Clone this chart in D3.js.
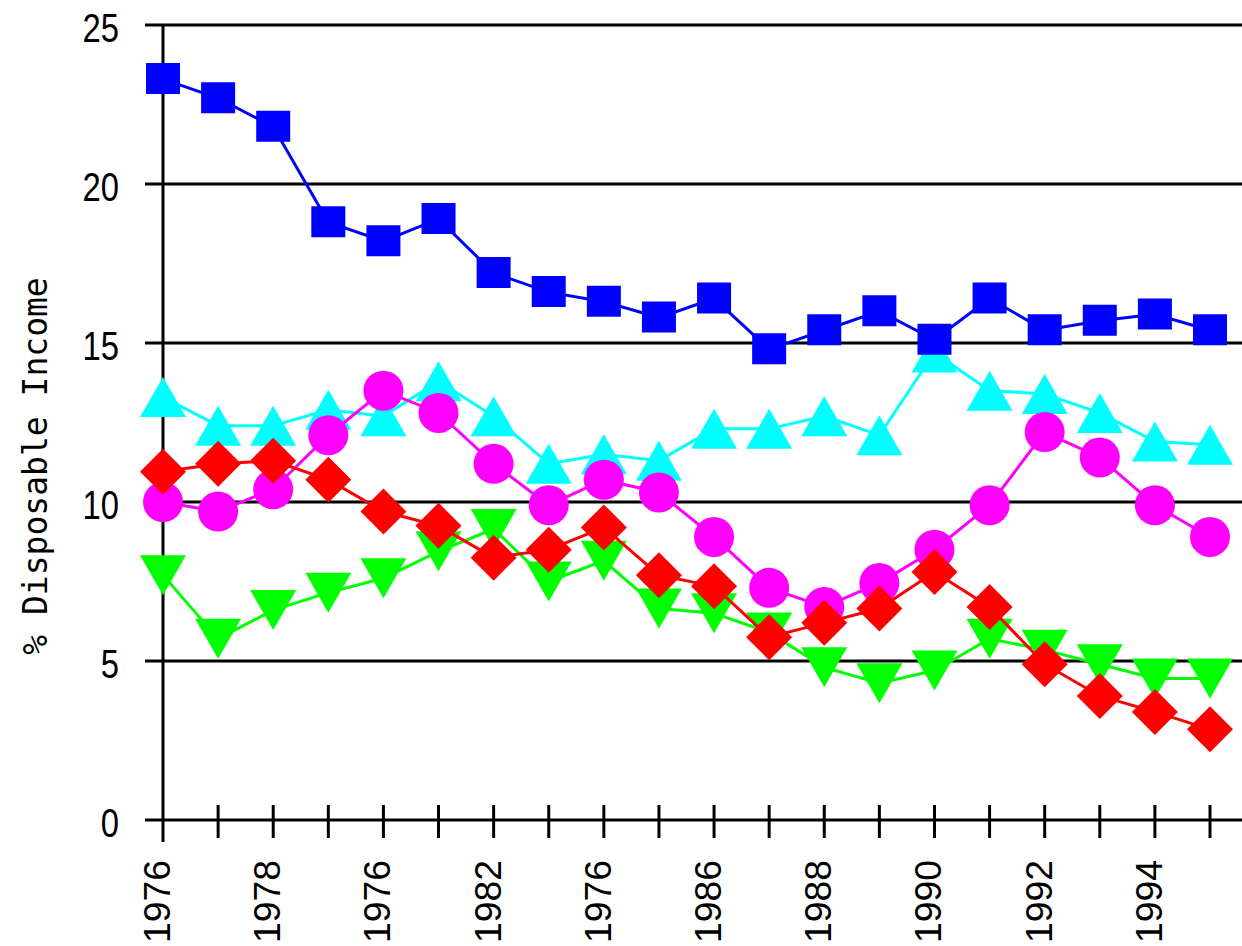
<!DOCTYPE html>
<html>
<head>
<meta charset="utf-8">
<script src="https://cdn.jsdelivr.net/npm/d3@7"></script>
<style>
  body { margin: 0; background: white; }
  svg { display: block; }
</style>
</head>
<body>
<div id="chart"></div>
<script>
var years = ["1976", "1977", "1978", "1979", "1980", "1981", "1982", "1983", "1984", "1985",
             "1986", "1987", "1988", "1989", "1990", "1991", "1992", "1993", "1994", "1995"];
// labels as printed under every second tick (the source repeats 1976)
var tickLabels = ["1976", "1978", "1976", "1982", "1976", "1986", "1988", "1990", "1992", "1994"];
var yTicks = [0, 5, 10, 15, 20, 25];

var blue    = [23.3, 22.7, 21.8, 18.8, 18.2, 18.9, 17.2, 16.6, 16.3, 15.8,
               16.4, 14.8, 15.4, 16.0, 15.1, 16.4, 15.4, 15.7, 15.9, 15.4];
var cyan    = [13.3, 12.4, 12.4, 12.9, 12.7, 13.8, 12.7, 11.2, 11.5, 11.3,
               12.3, 12.3, 12.7, 12.1, 14.7, 13.5, 13.4, 12.8, 11.9, 11.8];
var magenta = [10.0, 9.7, 10.4, 12.1, 13.5, 12.8, 11.2, 9.9, 10.7, 10.3,
               8.9, 7.3, 6.7, 7.45, 8.5, 9.9, 12.2, 11.4, 9.9, 8.9];
var red     = [10.95, 11.2, 11.3, 10.7, 9.7, 9.25, 8.25, 8.5, 9.2, 7.7,
               7.35, 5.75, 6.2, 6.65, 7.8, 6.7, 4.9, 3.9, 3.4, 2.85];
var green   = [7.7, 5.7, 6.6, 7.15, 7.6, 8.45, 9.15, 7.5, 8.15, 6.65,
               6.5, 5.9, 4.8, 4.3, 4.7, 5.7, 5.35, 4.9, 4.45, 4.45];

var width = 1242, height = 946;

var svg = d3.select('#chart')
  .append('svg')
  .attr('width', width)
  .attr('height', height);

svg.append('rect')
  .attr('width', width)
  .attr('height', height)
  .attr('fill', 'white');

var x = d3.scalePoint()
  .domain(years)
  .range([163, 1210]);

var y = d3.scaleLinear()
  .domain([0, 25])
  .range([820, 25]);

// horizontal gridlines
svg.selectAll('.grid')
  .data(yTicks)
  .enter()
  .append('line')
  .attr('x1', 145)
  .attr('x2', width)
  .attr('y1', function(d) { return y(d); })
  .attr('y2', function(d) { return y(d); })
  .attr('stroke', 'black')
  .attr('stroke-width', 3);

// y axis line
svg.append('line')
  .attr('x1', x(years[0]))
  .attr('x2', x(years[0]))
  .attr('y1', y(25))
  .attr('y2', 842)
  .attr('stroke', 'black')
  .attr('stroke-width', 3);

// y tick labels
svg.selectAll('.ylab')
  .data(yTicks)
  .enter()
  .append('text')
  .attr('transform', function(d) { return 'translate(119,' + (y(d) + 17) + ') scale(0.82,1)'; })
  .attr('text-anchor', 'end')
  .attr('font-family', 'Liberation Sans, Arial, sans-serif')
  .attr('font-size', 40)
  .attr('fill', 'black')
  .text(function(d) { return d; });

// x ticks
svg.selectAll('.xtick')
  .data(years.slice(1))
  .enter()
  .append('line')
  .attr('x1', function(d) { return x(d); })
  .attr('x2', function(d) { return x(d); })
  .attr('y1', 805)
  .attr('y2', 838)
  .attr('stroke', 'black')
  .attr('stroke-width', 3);

// x tick labels, every second category
svg.selectAll('.xlab')
  .data(tickLabels)
  .enter()
  .append('text')
  .attr('transform', function(d, i) {
    return 'translate(' + (x(years[i * 2]) + 7) + ',860) rotate(-90) scale(0.91,0.92)';
  })
  .attr('text-anchor', 'end')
  .attr('font-family', 'Liberation Sans, Arial, sans-serif')
  .attr('font-size', 41)
  .attr('fill', 'black')
  .text(function(d) { return d; });

// y axis title
svg.append('text')
  .attr('transform', 'translate(47,466) rotate(-90)')
  .attr('text-anchor', 'middle')
  .attr('font-family', 'DejaVu Sans Mono, monospace')
  .attr('font-size', 33)
  .attr('fill', 'black')
  .text('% Disposable Income');

var line = d3.line()
  .x(function(d, i) { return x(years[i]); })
  .y(function(d) { return y(d); });

function symbolPath(shape, cx, cy) {
  if (shape == 'square') {
    return 'M' + (cx - 17) + ',' + (cy - 16) + 'h34v31h-34z';
  } else if (shape == 'up') {
    return 'M' + (cx - 23) + ',' + (cy + 20) + 'L' + cx + ',' + (cy - 20) + 'L' + (cx + 23) + ',' + (cy + 20) + 'Z';
  } else if (shape == 'down') {
    return 'M' + (cx - 23) + ',' + (cy - 20) + 'L' + cx + ',' + (cy + 20) + 'L' + (cx + 23) + ',' + (cy - 20) + 'Z';
  } else if (shape == 'diamond') {
    return 'M' + cx + ',' + (cy - 23) + 'L' + (cx + 23) + ',' + cy + 'L' + cx + ',' + (cy + 23) + 'L' + (cx - 23) + ',' + cy + 'Z';
  }
  return 'M' + (cx - 20) + ',' + cy + 'a20,20 0 1,0 40,0a20,20 0 1,0 -40,0';
}

function drawSeries(values, color, shape) {
  svg.append('path')
    .datum(values)
    .attr('d', line)
    .attr('fill', 'none')
    .attr('stroke', color)
    .attr('stroke-width', 3);

  svg.selectAll(null)
    .data(values)
    .enter()
    .append('path')
    .attr('d', function(d, i) { return symbolPath(shape, x(years[i]), y(d)); })
    .attr('fill', color);
}

drawSeries(green, '#00ff00', 'down');
drawSeries(cyan, '#00ffff', 'up');
drawSeries(magenta, '#ff00ff', 'circle');
drawSeries(red, '#ff0000', 'diamond');
drawSeries(blue, '#0000ff', 'square');
</script>
</body>
</html>
